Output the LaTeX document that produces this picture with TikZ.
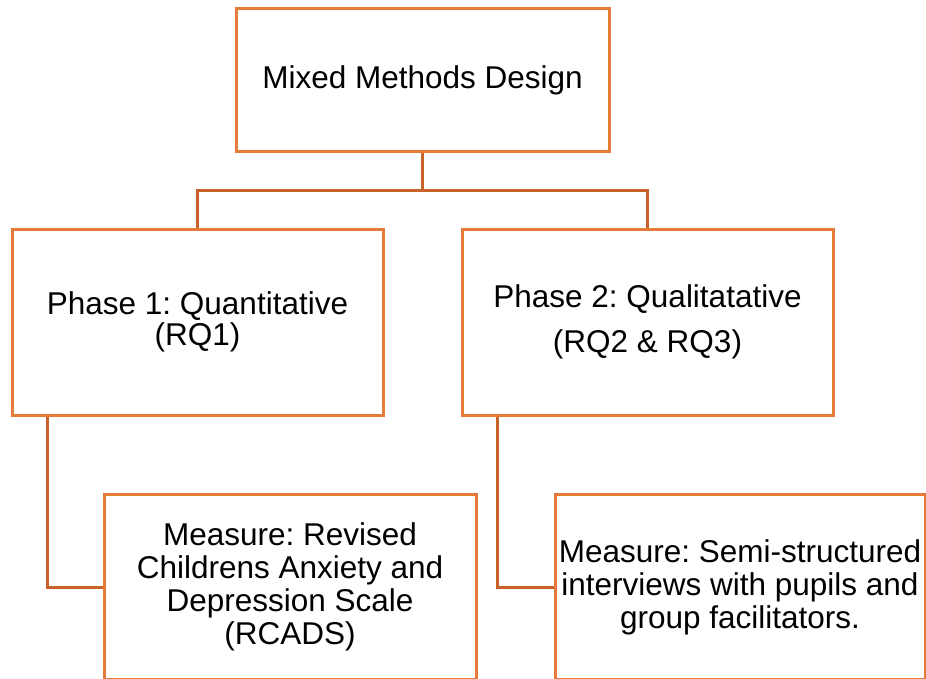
\documentclass[tikz,border=0pt]{standalone}
\usepackage{fontspec}
\setmainfont{Liberation Sans}
\usetikzlibrary{calc}
\definecolor{boxorange}{RGB}{230,122,56}
\definecolor{linkorange}{RGB}{200,98,40}
\frenchspacing

\begin{document}
\begin{tikzpicture}[x=1pt,y=-1pt,
  box/.style={draw=boxorange,line width=3pt,rectangle,inner sep=2pt,align=center,
    font=\fontsize{31.5}{33}\selectfont},
  link/.style={draw=linkorange,line width=3pt}]
  \useasboundingbox (0,0) rectangle (926,679);

  \node[box,minimum width=373pt,minimum height=143pt] (design) at (422.5,80.5)
    {Mixed Methods Design};
  \node[box,minimum width=371pt,minimum height=186pt] (phase1) at (197.5,322)
    {Phase 1: Quantitative\\[-1.5pt](RQ1)};
  \node[box,minimum width=371pt,minimum height=186pt] (phase2) at (647.5,322)
    {Phase 2: Qualitatative\\[12pt](RQ2 \& RQ3)};
  \node[box,minimum width=372pt,minimum height=185pt] (measure1) at (290,587)
    {Measure: Revised\\Childrens Anxiety and\\Depression Scale\\(RCADS)};
  \node[box,minimum width=370pt,minimum height=185pt] (measure2) at (740,587)
    {Measure: Semi-structured\\interviews with pupils and\\group facilitators.};

  \coordinate (bus) at (422.5,191);
  \coordinate (tap1) at ($(phase1.south west)!0.1!(phase1.south east)$);
  \coordinate (tap2) at ($(phase2.south west)!0.1!(phase2.south east)$);

  \draw[link] (design.south) -- (bus) -| (phase1.north);
  \draw[link] (bus) -| (phase2.north);
  \draw[link] (tap1) |- (measure1.west);
  \draw[link] (tap2) |- (measure2.west);
\end{tikzpicture}
\end{document}
